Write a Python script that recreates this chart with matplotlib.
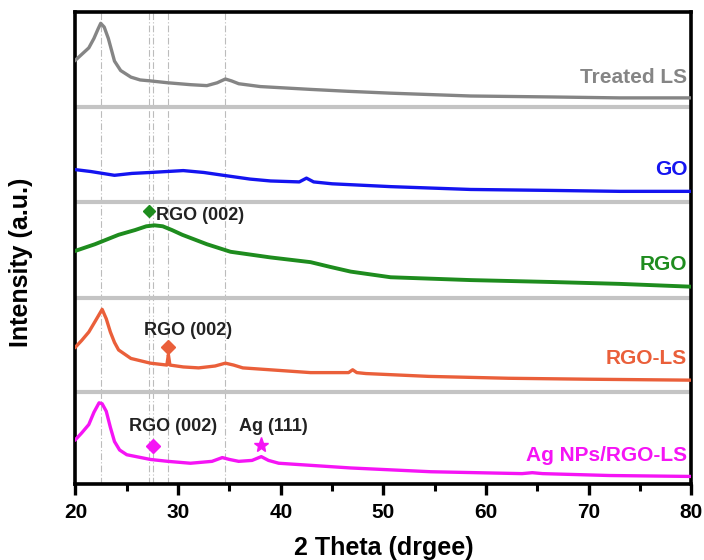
import matplotlib
matplotlib.use("Agg")
import matplotlib.pyplot as plt
from matplotlib.ticker import MultipleLocator

plt.rcParams['font.family'] = ['Liberation Sans', 'DejaVu Sans']

# ---- data (2 Theta, stacked intensity in a.u.) ----
ls_x = [20.0, 20.6, 21.3, 21.8, 22.2, 22.46, 22.8, 23.2, 23.8, 24.4, 25.4, 26.3, 27.3, 29.0, 31.2, 32.8, 33.8, 34.6, 35.2, 35.9, 38.0, 42.9, 46.5, 50.7, 58.5, 66.3, 73.0, 80.0]
ls_y = [4.49, 4.55, 4.62, 4.72, 4.82, 4.88, 4.84, 4.72, 4.48, 4.38, 4.31, 4.28, 4.27, 4.25, 4.23, 4.22, 4.25, 4.29, 4.27, 4.24, 4.21, 4.18, 4.16, 4.14, 4.11, 4.10, 4.09, 4.09]

go_x = [20.0, 21.5, 23.8, 25.5, 27.3, 30.5, 32.5, 34.4, 37.0, 39.0, 41.8, 42.5, 43.2, 45.0, 50.7, 58.5, 66.3, 73.0, 80.0]
go_y = [3.33, 3.31, 3.27, 3.29, 3.30, 3.32, 3.30, 3.27, 3.23, 3.21, 3.20, 3.24, 3.20, 3.18, 3.15, 3.12, 3.11, 3.10, 3.10]

rgo_x = [20.0, 21.9, 24.2, 25.8, 26.9, 27.7, 28.5, 29.4, 30.4, 32.8, 35.1, 39.0, 42.9, 44.8, 46.8, 50.7, 58.5, 66.3, 73.0, 80.0]
rgo_y = [2.47, 2.54, 2.64, 2.69, 2.73, 2.74, 2.73, 2.69, 2.64, 2.54, 2.46, 2.40, 2.35, 2.30, 2.25, 2.19, 2.16, 2.14, 2.12, 2.09]

rgols_x = [20.0, 20.6, 21.3, 21.9, 22.6, 23.0, 23.4, 23.8, 24.2, 25.4, 27.3, 28.9, 29.05, 29.2, 30.5, 32.0, 33.6, 34.6, 35.4, 36.3, 42.9, 46.6, 47.0, 47.4, 48.3, 54.4, 62.2, 70.0, 80.0]
rgols_y = [1.45, 1.52, 1.61, 1.72, 1.85, 1.75, 1.61, 1.50, 1.42, 1.33, 1.28, 1.26, 1.37, 1.26, 1.24, 1.23, 1.25, 1.28, 1.26, 1.23, 1.18, 1.18, 1.21, 1.18, 1.17, 1.14, 1.12, 1.11, 1.10]

ag_x = [20.0, 20.6, 21.3, 21.8, 22.3, 22.6, 23.0, 23.4, 23.8, 24.3, 25.0, 27.3, 29.0, 31.2, 33.3, 34.3, 35.0, 35.9, 37.2, 38.1, 38.8, 39.8, 46.8, 54.6, 63.5, 64.5, 65.5, 72.0, 80.0]
ag_y = [0.47, 0.54, 0.63, 0.76, 0.86, 0.85, 0.77, 0.60, 0.45, 0.36, 0.31, 0.26, 0.24, 0.22, 0.24, 0.28, 0.26, 0.24, 0.25, 0.29, 0.25, 0.22, 0.17, 0.13, 0.11, 0.12, 0.11, 0.09, 0.08]

series_names = ["Treated LS", "GO", "RGO", "RGO-LS", "Ag NPs/RGO-LS"]
series_colors = ["#858585", "#1414f0", "#1e8c1e", "#ea5f3a", "#f514f5"]
label_y = [4.31, 3.33, 2.32, 1.33, 0.30]

separators = [0.97, 1.97, 2.99, 3.99]
ref_lines = [22.5, 27.2, 27.6, 29.05, 34.6]

# marker annotations: (x, y)
rgo_mark = (27.2, 2.89)
rgols_mark = (29.0, 1.45)
ag_rgo_mark = (27.6, 0.40)
ag_111_mark = (38.1, 0.41)

fig = plt.figure(figsize=(7.04, 5.6), dpi=100)
ax = fig.add_axes([0.1072, 0.1357, 0.8750, 0.8429])

for xv in ref_lines:
    ax.axvline(xv, color="#bcbcbc", lw=0.8, ls=(0, (6, 2, 1, 2)), zorder=1)
for yv in separators:
    ax.axhline(yv, color="#c4c4c4", lw=3.0, zorder=2)

xs = [ls_x, go_x, rgo_x, rgols_x, ag_x]
ys = [ls_y, go_y, rgo_y, rgols_y, ag_y]
widths = [2.4, 2.4, 2.8, 2.4, 2.4]
for x, y, c, w in zip(xs, ys, series_colors, widths):
    ax.plot(x, y, color=c, lw=w, zorder=3, solid_joinstyle='round')

for name, c, ly in zip(series_names, series_colors, label_y):
    ax.text(79.6, ly, name, color=c, fontsize=15, fontweight='bold',
            ha='right', va='center', zorder=4)

ax.plot(*rgo_mark, marker='D', color=series_colors[2], ms=6, zorder=4)
ax.text(27.8, 2.84, "RGO (002)", fontsize=13, fontweight='bold', color="#222222",
        ha='left', va='center')

ax.plot(*rgols_mark, marker='D', color=series_colors[3], ms=7, zorder=4)
ax.text(31.0, 1.63, "RGO (002)", fontsize=13, fontweight='bold', color="#222222",
        ha='center', va='center')

ax.plot(*ag_rgo_mark, marker='D', color=series_colors[4], ms=7, zorder=4)
ax.plot(*ag_111_mark, marker='*', color=series_colors[4], ms=11, zorder=4)
ax.text(29.5, 0.61, "RGO (002)", fontsize=13, fontweight='bold', color="#222222",
        ha='center', va='center')
ax.text(39.3, 0.61, "Ag (111)", fontsize=13, fontweight='bold', color="#222222",
        ha='center', va='center')

ax.set_xlim(20, 80)
ax.set_ylim(0, 5)
ax.xaxis.set_major_locator(MultipleLocator(10))
ax.xaxis.set_minor_locator(MultipleLocator(5))
ax.tick_params(axis='x', which='major', direction='out', length=8, width=2.4, labelsize=15, pad=6)
ax.tick_params(axis='x', which='minor', direction='out', length=5, width=2.2)
ax.set_yticks([])
for lab in ax.get_xticklabels():
    lab.set_fontweight('bold')
for sp in ax.spines.values():
    sp.set_linewidth(2.6)

ax.set_xlabel("2 Theta (drgee)", fontsize=18, fontweight='bold', labelpad=10)
ax.set_ylabel("Intensity (a.u.)", fontsize=18, fontweight='bold')
ax.yaxis.set_label_coords(-0.069, 0.47)

fig.savefig("out.png", dpi=100)
